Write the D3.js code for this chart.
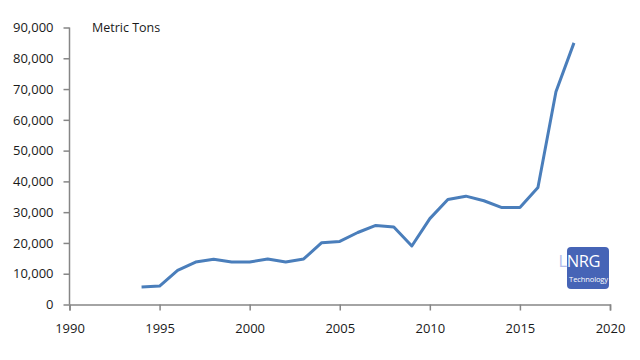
<!DOCTYPE html>
<html><head><meta charset="utf-8">
<script src="https://cdn.jsdelivr.net/npm/d3@7"></script>
<style>body{margin:0;background:#fff}svg{display:block}</style>
</head><body>
<script>
const years = [1994,1995,1996,1997,1998,1999,2000,2001,2002,2003,2004,2005,2006,2007,2008,2009,2010,2011,2012,2013,2014,2015,2016,2017,2018];
const tons = [5700,6000,11100,13800,14700,13800,13800,14800,13800,14800,20100,20500,23400,25700,25200,19000,27900,34100,35200,33700,31500,31500,38000,69100,85000];
const yTicks = [0,10000,20000,30000,40000,50000,60000,70000,80000,90000];
const xTicks = [1990,1995,2000,2005,2010,2015,2020];
const unitLabel = "Metric Tons";

const W=640,H=360;
const svg=d3.select("body").append("svg").attr("width",W).attr("height",H);
const x=d3.scaleLinear().domain([1990,2020]).range([69.5,610]);
const y=d3.scaleLinear().domain([0,90000]).range([304.5,27.5]);
const axisCol="#868686", font="'Open Sans', sans-serif";

const ya=svg.append("g").attr("transform","translate(69.5,0)")
  .call(d3.axisLeft(y).tickValues(yTicks).tickSize(6).tickPadding(10).tickFormat(d3.format(",")));
const xa=svg.append("g").attr("transform","translate(0,304.5)")
  .call(d3.axisBottom(x).tickValues(xTicks).tickSize(6).tickPadding(10).tickFormat(d3.format("d")));
[ya,xa].forEach(g=>{
  g.select(".domain").attr("stroke",axisCol).attr("stroke-width",1.5);
  g.selectAll(".tick line").attr("stroke",axisCol).attr("stroke-width",1.5);
  g.selectAll("text").attr("fill","#1a1a1a").style("font-family",font).style("font-size","13px");
});
ya.select(".domain").attr("d","M0,27.5V304.5");
ya.selectAll(".tick text").attr("x",-16);
xa.selectAll(".tick text").attr("dy","0.95em");

svg.append("text").attr("x",92).attr("y",31.5).text(unitLabel)
  .style("font-family",font).style("font-size","12.5px").attr("fill","#1a1a1a");

svg.append("path").datum(years.map((d,i)=>[d,tons[i]]))
  .attr("d",d3.line().x(d=>x(d[0])).y(d=>y(d[1])))
  .attr("fill","none").attr("stroke","#4a7ebb").attr("stroke-width",3).attr("stroke-linejoin","round");

// logo
const defs=svg.append("defs");
const gr=defs.append("linearGradient").attr("id","lg").attr("gradientUnits","userSpaceOnUse")
  .attr("x1",558).attr("x2",608).attr("y1",0).attr("y2",0);
gr.append("stop").attr("offset",0).attr("stop-color","#b4bdea");
gr.append("stop").attr("offset",0.18).attr("stop-color","#b4bdea");
gr.append("stop").attr("offset",0.18).attr("stop-color","#ffffff");
gr.append("stop").attr("offset",1).attr("stop-color","#ffffff");
const logo=svg.append("g");
logo.append("rect").attr("x",567).attr("y",247).attr("width",42).attr("height",42).attr("rx",4).attr("fill","#4664b6");
logo.append("text").attr("x",558.5).attr("y",267).text("LNRG").attr("fill","url(#lg)")
  .style("font-family",font).style("font-size","16.5px").style("letter-spacing","-0.4px");
logo.append("text").attr("x",608).attr("y",281.5).attr("text-anchor","end").text("Technology").attr("fill","#fff")
  .style("font-family",font).style("font-size","7.5px").style("letter-spacing","-0.1px");
</script>
</body></html>
